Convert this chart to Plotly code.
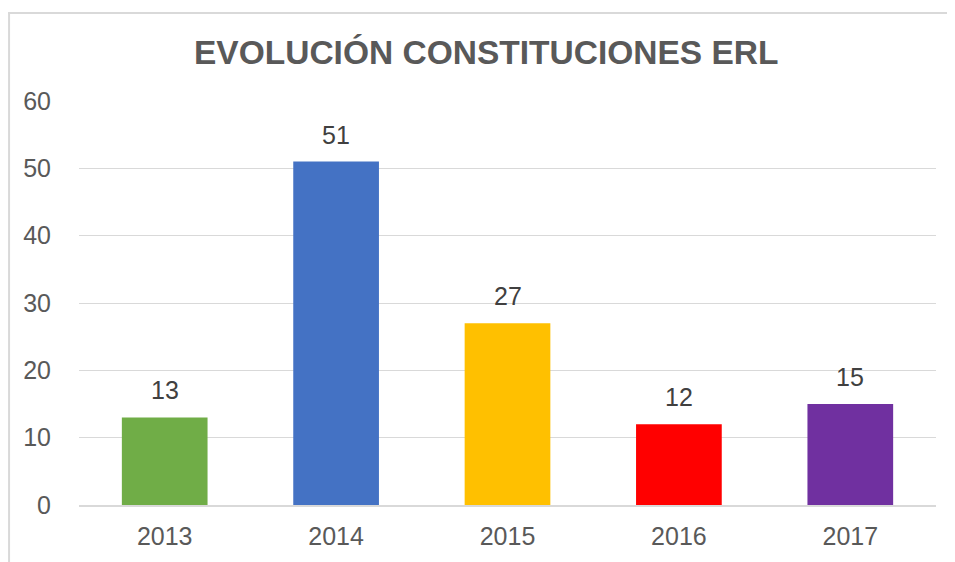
import plotly.graph_objects as go

years = ["2013", "2014", "2015", "2016", "2017"]
values = [13, 51, 27, 12, 15]
colors = ["#70AD47", "#4472C4", "#FFC000", "#FF0000", "#7030A0"]
y_ticks = [0, 10, 20, 30, 40, 50, 60]
title = "EVOLUCIÓN CONSTITUCIONES ERL"

FONT = "Liberation Sans, Arial"

fig = go.Figure()
fig.add_trace(go.Bar(
    x=years, y=values,
    marker=dict(color=colors, line=dict(width=0)),
    hoverinfo="skip",
))

# value labels (x given as category index so the category axis is not stretched)
for i, v in enumerate(values):
    fig.add_annotation(x=i, y=v, xref="x", yref="y", text=str(v), showarrow=False,
                       yanchor="bottom", yshift=11,
                       font=dict(family=FONT, size=25, color="#404040"))

fig.update_layout(
    width=947, height=554,
    margin=dict(l=71, r=19, t=93, b=57),
    paper_bgcolor="white", plot_bgcolor="white",
    bargap=0.5,
    showlegend=False,
    title=dict(text="<b>" + title + "</b>", x=0.505, xanchor="center", y=0.9206, yanchor="middle",
               font=dict(family=FONT, size=33.5, color="#595959")),
    font=dict(family=FONT, color="#595959"),
)
fig.update_yaxes(range=[0, 60], tickvals=y_ticks, showgrid=True, gridcolor="#D9D9D9", gridwidth=1,
                 zeroline=False, showline=False, ticks="outside", ticklen=22, tickcolor="rgba(0,0,0,0)",
                 tickfont=dict(size=25, color="#595959"))
fig.update_xaxes(type="category", range=[-0.5, len(years) - 0.5],
                 showline=True, linecolor="#D9D9D9", linewidth=2,
                 ticks="outside", ticklen=8, tickcolor="rgba(0,0,0,0)",
                 tickfont=dict(size=25, color="#595959"))

# chart frame (top and left edges)
fig.add_shape(type="line", xref="paper", yref="paper", x0=-0.0828, x1=1.03, y0=1.2178, y1=1.2178,
              line=dict(color="#D9D9D9", width=2))
fig.add_shape(type="line", xref="paper", yref="paper", x0=-0.0816, x1=-0.0816, y0=1.2178, y1=-0.15,
              line=dict(color="#D9D9D9", width=2))

fig.write_html("out.html")
